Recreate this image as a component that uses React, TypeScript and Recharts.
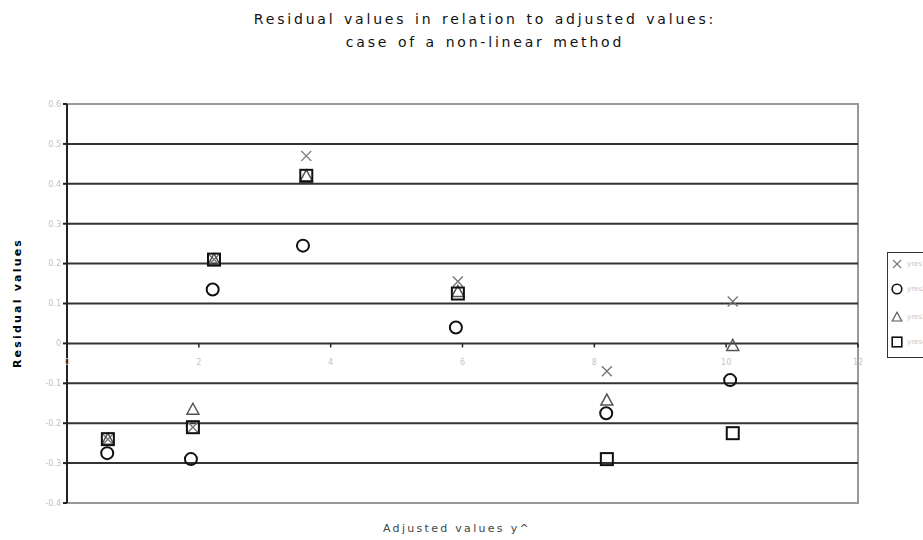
import React from 'react';
import {
  ScatterChart,
  Scatter,
  XAxis,
  YAxis,
  ReferenceLine,
  ReferenceDot,
  ReferenceArea,
} from 'recharts';

const xValues = [0.62, 1.91, 2.23, 3.63, 5.93, 8.19, 10.1];
const circleXValues = [0.61, 1.88, 2.21, 3.58, 5.9, 8.18, 10.06];
const crossValues = [-0.24, -0.21, 0.21, 0.47, 0.155, -0.07, 0.105];
const circleValues = [-0.275, -0.29, 0.135, 0.245, 0.04, -0.175, -0.092];
const triangleValues = [-0.24, -0.165, 0.21, 0.42, 0.13, -0.142, -0.005];
const squareValues = [-0.24, -0.21, 0.21, 0.42, 0.125, -0.29, -0.225];

const seriesNames = ['yres1', 'yres2', 'yres3', 'yres4'];
const xTicks = [0, 2, 4, 6, 8, 10, 12];
const yTicks = [-0.4, -0.3, -0.2, -0.1, 0, 0.1, 0.2, 0.3, 0.4, 0.5, 0.6];
const gridValues = [-0.3, -0.2, -0.1, 0, 0.1, 0.2, 0.3, 0.4, 0.5];

const toPoints = (xs: number[], ys: number[]) => ys.map((y, i) => ({ x: xs[i], y }));

const FONT = '"DejaVu Sans", Verdana, sans-serif';
const TICK_COLOR = '#c4c4c4';

const Cross = ({ cx, cy }: any) => (
  <g stroke="#777" strokeWidth={1.4}>
    <line x1={cx - 5} y1={cy - 5} x2={cx + 5} y2={cy + 5} />
    <line x1={cx - 5} y1={cy + 5} x2={cx + 5} y2={cy - 5} />
  </g>
);

const Circle = ({ cx, cy }: any) => (
  <circle cx={cx} cy={cy} r={6} fill="none" stroke="#111" strokeWidth={2} />
);

const Triangle = ({ cx, cy }: any) => (
  <path
    d={`M${cx},${cy - 6} L${cx + 6},${cy + 5} L${cx - 6},${cy + 5} Z`}
    fill="none"
    stroke="#555"
    strokeWidth={1.5}
  />
);

const Square = ({ cx, cy }: any) => (
  <rect x={cx - 6} y={cy - 6} width={12} height={12} fill="none" stroke="#111" strokeWidth={2} />
);

const markers = [Cross, Circle, Triangle, Square];

const XTickMark = ({ cx, cy }: any) => (
  <line x1={cx} y1={cy} x2={cx} y2={cy + 4} stroke="#222" strokeWidth={1.5} />
);

// legend sits half outside the picture, as in the original
const LegendBox = () => (
  <div
    style={{
      position: 'absolute',
      left: 887,
      top: 252,
      width: 60,
      height: 104,
      border: '1px solid #333',
      background: '#fff',
    }}
  >
    {seriesNames.map((name, i) => {
      const Mark = markers[i];
      return (
        <div
          key={name}
          style={{
            position: 'absolute',
            left: 1,
            top: [3, 28, 56, 81][i],
            height: 16,
            display: 'flex',
            alignItems: 'center',
          }}
        >
          <svg width={16} height={16}>
            <g transform="translate(8,8) scale(0.8) translate(-8,-8)">
              <Mark cx={8} cy={8} />
            </g>
          </svg>
          <span style={{ fontFamily: FONT, fontSize: 7, color: TICK_COLOR, marginLeft: 2 }}>{name}</span>
        </div>
      );
    })}
  </div>
);

const titleStyle: React.CSSProperties = {
  position: 'absolute',
  left: 0,
  width: 970,
  textAlign: 'center',
  fontSize: 14,
  letterSpacing: 2.8,
  wordSpacing: 1.4,
  color: '#111',
  whiteSpace: 'nowrap',
};

export default function App() {
  const series = [
    toPoints(xValues, crossValues),
    toPoints(circleXValues, circleValues),
    toPoints(xValues, triangleValues),
    toPoints(xValues, squareValues),
  ];

  return (
    <div
      style={{
        position: 'absolute',
        left: 0,
        top: 0,
        width: 923,
        height: 540,
        overflow: 'hidden',
        background: '#fff',
        fontFamily: FONT,
      }}
    >
      <div style={{ ...titleStyle, top: 11 }}>Residual values in relation to adjusted values:</div>
      <div style={{ ...titleStyle, top: 34 }}>case of a non-linear method</div>

      <ScatterChart width={923} height={540} margin={{ top: 104, right: 65, bottom: 37, left: 10 }}>
        <XAxis type="number" dataKey="x" domain={[0, 12]} ticks={xTicks} hide />
        <YAxis
          type="number"
          dataKey="y"
          domain={[-0.4, 0.6]}
          ticks={yTicks}
          width={57}
          interval={0}
          tickSize={4}
          tickLine={{ stroke: '#222', strokeWidth: 2 }}
          axisLine={{ stroke: '#222', strokeWidth: 2 }}
          tick={{ fill: TICK_COLOR, fontSize: 8 }}
          tickFormatter={(v: number) => (v === 0 ? '0' : v.toFixed(1))}
        />
        <ReferenceArea
          x1={0}
          x2={12}
          y1={-0.4}
          y2={0.6}
          fill="none"
          stroke="#999"
          strokeWidth={2}
          fillOpacity={0}
        />
        {gridValues.map((v) => (
          <ReferenceLine key={v} y={v} stroke="#333" strokeWidth={2} />
        ))}
        {xTicks.map((v) => (
          <ReferenceDot
            key={v}
            x={v}
            y={0}
            r={3}
            shape={XTickMark}
            label={{ value: String(v), position: 'bottom', offset: 13, fill: TICK_COLOR, fontSize: 8 }}
          />
        ))}
        {series.map((data, i) => (
          <Scatter
            key={seriesNames[i]}
            name={seriesNames[i]}
            data={data}
            shape={markers[i]}
            isAnimationActive={false}
          />
        ))}
      </ScatterChart>

      <div
        style={{
          position: 'absolute',
          left: 17,
          top: 303,
          transform: 'translate(-50%, -50%) rotate(-90deg)',
          fontSize: 11,
          fontWeight: 'bold',
          letterSpacing: 2.2,
          color: '#000',
          whiteSpace: 'nowrap',
        }}
      >
        Residual values
      </div>
      <div
        style={{
          position: 'absolute',
          top: 522,
          left: 0,
          width: 914,
          textAlign: 'center',
          fontSize: 11,
          letterSpacing: 2.3,
          color: '#444',
          whiteSpace: 'nowrap',
        }}
      >
        Adjusted values y^
      </div>

      <LegendBox />
    </div>
  );
}
